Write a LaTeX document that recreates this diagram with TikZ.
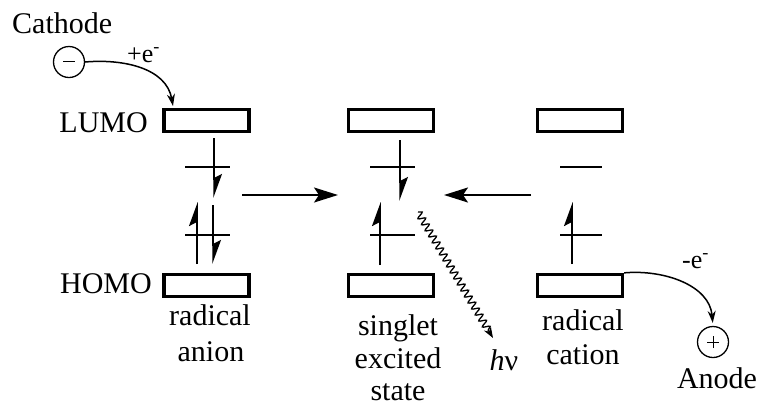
\documentclass[tikz,border=0pt]{standalone}
\usepackage{fontspec}
\setmainfont{Liberation Serif}
\usetikzlibrary{arrows.meta,decorations.pathmorphing}
\begin{document}
\begin{tikzpicture}[x=1pt,y=-1pt,
  orbital/.style={draw, line width=3.3pt, minimum width=85pt, minimum height=22pt, inner sep=0pt},
  level/.style={line width=1.3pt},
  spin/.style={line width=1.5pt, -{Stealth[harpoon, length=22pt, width=16pt, inset=4pt]}},
  transfer/.style={line width=2pt, -{Stealth[length=24pt, width=15pt, inset=5pt]}},
  electrode/.style={draw, circle, line width=1.3pt, minimum size=31pt, inner sep=0pt},
  feed/.style={line width=1.5pt, -{Stealth[length=12pt, width=8pt]}},
  lbl/.style={font=\fontsize{30}{33}\selectfont, inner sep=0pt},
  sml/.style={font=\fontsize{26}{28}\selectfont, inner sep=0pt},
]
\useasboundingbox (0,0) rectangle (761,408);

% orbital boxes
\node[orbital] (AL) at (206.5,120.5) {};
\node[orbital] (AH) at (206.5,285.5) {};
\node[orbital] (SL) at (391,120.5) {};
\node[orbital] (SH) at (391,285.5) {};
\node[orbital] (CL) at (580,120.5) {};
\node[orbital] (CH) at (580,285.5) {};

% level labels
\node[lbl, anchor=base east] (lumo) at (148,132) {LUMO};
\node[lbl, anchor=base east] (homo) at (152,293) {HOMO};

% radical anion: levels and spins
\draw[level] (185,167) -- (230,167);
\draw[level] (185,235) -- (230,235);
\coordinate (a1s) at (214,138); \coordinate (a1e) at (214,198);
\coordinate (a2s) at (197,264); \coordinate (a2e) at (197,202);
\coordinate (a3s) at (213,205); \coordinate (a3e) at (213,264);
\draw[spin] (a1s) -- (a1e);
\draw[spin] (a2s) -- (a2e);
\draw[spin] (a3s) -- (a3e);

% singlet excited state
\draw[level] (370,167) -- (415,167);
\draw[level] (370,235) -- (415,235);
\coordinate (s1s) at (400,140); \coordinate (s1e) at (400,201);
\coordinate (s2s) at (380,265); \coordinate (s2e) at (380,202);
\draw[spin] (s1s) -- (s1e);
\draw[spin] (s2s) -- (s2e);

% radical cation
\draw[level] (560,167) -- (602,167);
\draw[level] (560,235) -- (602,235);
\coordinate (c1s) at (572,264); \coordinate (c1e) at (572,202);
\draw[spin] (c1s) -- (c1e);

% recombination arrows
\coordinate (ltail) at (242,195); \coordinate (lhead) at (338,195);
\coordinate (rtail) at (531,195); \coordinate (rhead) at (444,195);
\draw[transfer] (ltail) -- (lhead);
\draw[transfer] (rtail) -- (rhead);

% emission
\coordinate (w1) at (418,212); \coordinate (w2) at (493,338);
\draw[line width=1.3pt, decorate,
      decoration={snake, amplitude=3.5pt, segment length=7pt, post length=9pt},
      -{Stealth[length=11pt, width=8pt]}] (w1) -- (w2);
\node[lbl, anchor=base] (hv) at (504,370) {\textit{h}ν};

% cathode
\node[lbl, anchor=base west] (cathtxt) at (12,33) {Cathode};
\node[electrode] (cath) at (69,62) {};
\draw[line width=0.9pt] ([xshift=-6pt,yshift=1pt]cath.center) -- ([xshift=6pt,yshift=1pt]cath.center);
\node[sml, anchor=base west] (plus) at (127,62) {+e\textsuperscript{-}};
\coordinate (cin) at (173,106);
\draw[feed] (cath.east) to[out=5, in=100] (cin);

% anode
\node[electrode] (anode) at (713,342) {};
\draw[line width=0.7pt] ([xshift=-6pt]anode.center) -- ([xshift=6pt]anode.center);
\draw[line width=0.7pt] ([yshift=-6pt]anode.center) -- ([yshift=6pt]anode.center);
\node[lbl, anchor=base] (anodetxt) at (717,388) {Anode};
\node[sml, anchor=base west] (minus) at (682,268) {-e\textsuperscript{-}};
\draw[feed, shorten >=3pt] (CH.north east) to[out=5, in=95] (anode.north);

% state names
\node[lbl, anchor=base] (an1) at (210,325) {radical};
\node[lbl, anchor=base] (an2) at (211,361) {anion};
\node[lbl, anchor=base] (st1) at (398,335) {singlet};
\node[lbl, anchor=base] (st2) at (398,368) {excited};
\node[lbl, anchor=base] (st3) at (398,400) {state};
\node[lbl, anchor=base] (ca1) at (583,330) {radical};
\node[lbl, anchor=base] (ca2) at (583,364) {cation};
\end{tikzpicture}
\end{document}
